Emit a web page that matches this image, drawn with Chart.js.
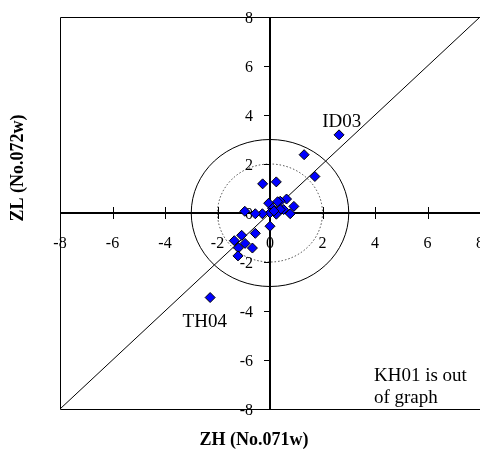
<!DOCTYPE html>
<html>
<head>
<meta charset="utf-8">
<script src="https://cdn.jsdelivr.net/npm/chart.js@4.4.1/dist/chart.umd.min.js"></script>
<style>
  html, body { margin: 0; padding: 0; background: #fff; }
  #wrap { position: relative; width: 480px; height: 451px; }
</style>
</head>
<body>
<div id="wrap"><canvas id="chart"></canvas></div>
<script>
// ZH (No.071w) vs ZL (No.072w) z-scores
const zhValues = [2.63, 1.30, 1.71, -0.28, 0.24, 0.63, 0.39, -0.05, 0.10, 0.91, 0.52, 0.39, 0.77, 0.24, 0.00,
                  -0.29, -0.56, -0.96, 0.00, -0.56, -1.08, -1.36, -0.95, -1.20, -0.67, -1.22, -2.28, 0.29, 0.15];
const zlValues = [3.19, 2.38, 1.49, 1.19, 1.27, 0.57, 0.48, 0.40, 0.19, 0.27, 0.14, 0.14, -0.03, -0.05, 0.00,
                  -0.03, -0.03, 0.07, -0.54, -0.83, -0.91, -1.13, -1.24, -1.42, -1.43, -1.75, -3.45, 0.46, 0.08];
const tickValues = [-8, -6, -4, -2, 0, 2, 4, 6, 8];
const diagonal = [-8, 8];
const innerRadius = 2;   // dotted circle
const outerRadius = 3;   // solid circle

const FONT = '"Liberation Serif", "Times New Roman", serif';

const points = zhValues.map((x, i) => ({ x: x, y: zlValues[i] }));

const axesPlugin = {
  id: 'crossAxes',
  beforeDatasetsDraw(chart) {
    const { ctx, chartArea: a, scales: { x, y } } = chart;
    const x0 = x.getPixelForValue(0);
    const y0 = y.getPixelForValue(0);
    ctx.save();

    // frame (right edge falls outside the picture)
    ctx.strokeStyle = '#000';
    ctx.lineWidth = 1;
    ctx.beginPath();
    ctx.moveTo(a.right + 2, a.top + 0.5);
    ctx.lineTo(a.left + 0.5, a.top + 0.5);
    ctx.lineTo(a.left + 0.5, a.bottom + 0.5);
    ctx.lineTo(a.right + 2, a.bottom + 0.5);
    ctx.stroke();

    // circles
    const ellipse = (r) => {
      const rx = x.getPixelForValue(r) - x0;
      const ry = y0 - y.getPixelForValue(r);
      ctx.beginPath();
      ctx.ellipse(x0, y0, rx, ry, 0, 0, Math.PI * 2);
      ctx.stroke();
    };
    ctx.lineWidth = 1;
    ctx.setLineDash([1.5, 2]);
    ctx.strokeStyle = '#444';
    ellipse(innerRadius);
    ctx.setLineDash([]);
    ctx.strokeStyle = '#000';
    ellipse(outerRadius);

    // axis lines through zero
    ctx.lineWidth = 2;
    ctx.beginPath();
    ctx.moveTo(a.left, y0);
    ctx.lineTo(a.right, y0);
    ctx.moveTo(x0, a.top);
    ctx.lineTo(x0, a.bottom);
    ctx.stroke();

    // tick marks
    ctx.lineWidth = 1;
    ctx.beginPath();
    tickValues.forEach(v => {
      const px = Math.round(x.getPixelForValue(v)) + 0.5;
      ctx.moveTo(px, y0 - 6);
      ctx.lineTo(px, y0 + 6);
      const py = Math.round(y.getPixelForValue(v)) + 0.5;
      ctx.moveTo(x0 - 6, py);
      ctx.lineTo(x0, py);
    });
    ctx.stroke();

    // tick labels
    ctx.fillStyle = '#000';
    ctx.font = '16px ' + FONT;
    ctx.textBaseline = 'alphabetic';
    ctx.textAlign = 'center';
    tickValues.forEach(v => {
      ctx.fillText(String(v), x.getPixelForValue(v), y0 + 35);
    });
    ctx.textAlign = 'right';
    tickValues.forEach(v => {
      ctx.fillText(String(v), x0 - 17, y.getPixelForValue(v) + 6);
    });

    // annotations
    ctx.font = '19px ' + FONT;
    ctx.textAlign = 'left';
    ctx.fillText('ID03', x.getPixelForValue(1.99), y.getPixelForValue(3.52));
    ctx.fillText('TH04', x.getPixelForValue(-3.33), y.getPixelForValue(-4.66));
    ctx.fillText('KH01 is out', x.getPixelForValue(3.96), y.getPixelForValue(-6.87));
    ctx.fillText('of graph', x.getPixelForValue(3.96), y.getPixelForValue(-7.77));

    // axis titles
    ctx.font = 'bold 18px ' + FONT;
    ctx.textAlign = 'center';
    ctx.textBaseline = 'middle';
    ctx.fillText('ZH (No.071w)', 254, 440);
    ctx.translate(18, 168);
    ctx.rotate(-Math.PI / 2);
    ctx.fillText('ZL (No.072w)', 0, 0);
    ctx.restore();
  }
};

new Chart(document.getElementById('chart'), {
  type: 'scatter',
  data: {
    datasets: [
      {
        label: 'ZL vs ZH',
        data: points,
        pointStyle: 'rectRot',
        pointRadius: 5,
        pointHoverRadius: 5,
        backgroundColor: '#0000ff',
        borderColor: '#000',
        borderWidth: 1,
        order: 1
      },
      {
        type: 'line',
        label: '1:1',
        data: diagonal.map(v => ({ x: v, y: v })),
        borderColor: '#000',
        borderWidth: 1,
        pointRadius: 0,
        fill: false,
        order: 2
      }
    ]
  },
  options: {
    responsive: true,
    maintainAspectRatio: false,
    animation: false,
    layout: { autoPadding: false, padding: { left: 60, top: 17, right: -2, bottom: 42 } },
    plugins: { legend: { display: false }, tooltip: { enabled: false } },
    scales: {
      x: { type: 'linear', min: -8, max: 8, display: false },
      y: { type: 'linear', min: -8, max: 8, display: false }
    }
  },
  plugins: [axesPlugin]
});
</script>
</body>
</html>
